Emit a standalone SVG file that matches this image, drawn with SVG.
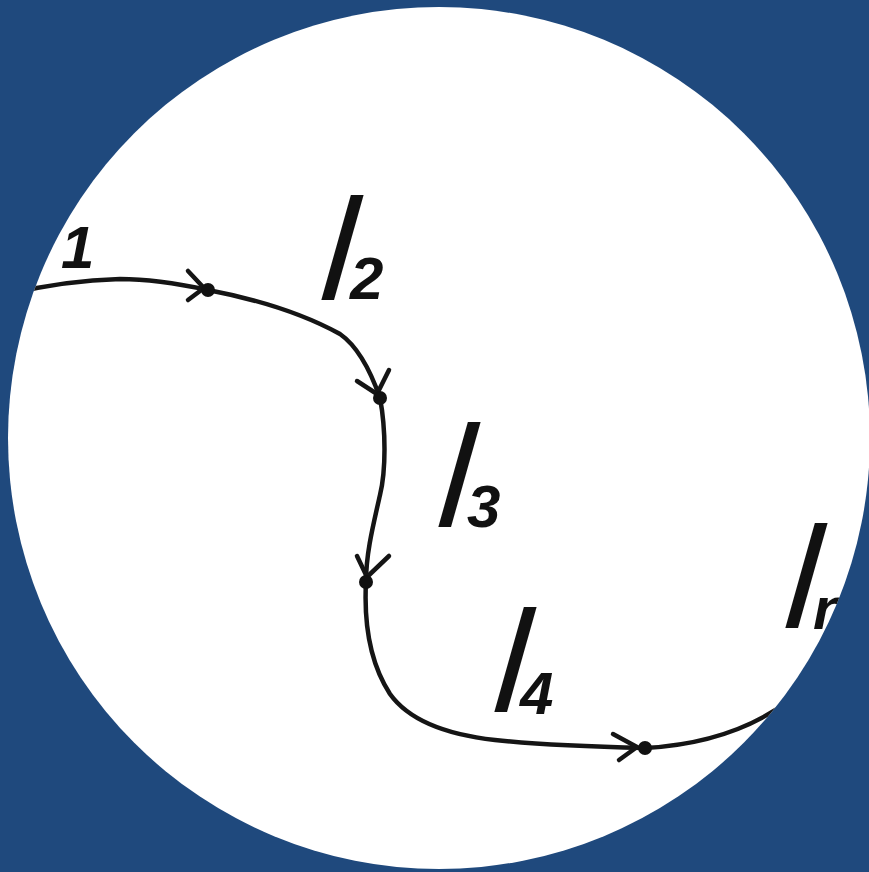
<svg xmlns="http://www.w3.org/2000/svg" width="869" height="872" viewBox="0 0 869 872">
  <defs>
    <clipPath id="disc"><circle cx="439" cy="438" r="431"/></clipPath>
    <style>
      .curve{fill:none;stroke:#151515;stroke-width:4.5;stroke-linecap:round;stroke-linejoin:round}
      .head{fill:none;stroke:#151515;stroke-width:4.5;stroke-linecap:round;stroke-linejoin:round}
      .dot{fill:#111}
      .ell{font-family:"Liberation Sans","DejaVu Sans",sans-serif;font-style:italic;font-size:145px;fill:#111}
      .sub{font-family:"Liberation Sans","DejaVu Sans",sans-serif;font-style:italic;font-weight:bold;font-size:60px;fill:#111}
    </style>
  </defs>
  <rect x="0" y="0" width="869" height="872" fill="#1f497d"/>
  <circle cx="439" cy="438" r="431" fill="#ffffff"/>
  <g clip-path="url(#disc)">
    <g id="connectors">
      <path class="curve" d="M0,296 C40,286 80,280 120,279 C150,279 180,284 208,290 C250,298 300,312 340,334 C360,348 372,375 380,398 C386,430 386,470 380,495 C372,530 366,555 366,582 C364,620 368,660 390,694 C410,722 450,735 495,740 C540,745 600,747 645,748 C700,745 750,730 790,700 C810,685 830,670 860,650"/>
      <path class="head" d="M188,271 L204,288 L188,300"/>
      <path class="head" d="M357,381 L377,394 L389,370"/>
      <path class="head" d="M357,556 L367,577 L389,556"/>
      <path class="head" d="M613,734 L637,747 L619,760"/>
    </g>
    <g id="p1"><circle class="dot" cx="208" cy="290" r="7"/></g>
    <g id="p2"><circle class="dot" cx="380" cy="398" r="7"/></g>
    <g id="p3"><circle class="dot" cx="366" cy="582" r="7"/></g>
    <g id="p4"><circle class="dot" cx="645" cy="748" r="7"/></g>
    <g id="label-l1"><text class="ell" transform="translate(22,270) skewX(-5)">l</text><text class="sub" x="61" y="268">1</text></g>
    <g id="label-l2"><text class="ell" transform="translate(319,300) skewX(-5)">l</text><text class="sub" x="350" y="299">2</text></g>
    <g id="label-l3"><text class="ell" transform="translate(436,527) skewX(-5)">l</text><text class="sub" x="467" y="527">3</text></g>
    <g id="label-l4"><text class="ell" transform="translate(492,712) skewX(-5)">l</text><text class="sub" x="520" y="714">4</text></g>
    <g id="label-ln"><text class="ell" transform="translate(783,628) skewX(-5)">l</text><text class="sub" x="813" y="629">n</text></g>
  </g>
</svg>
